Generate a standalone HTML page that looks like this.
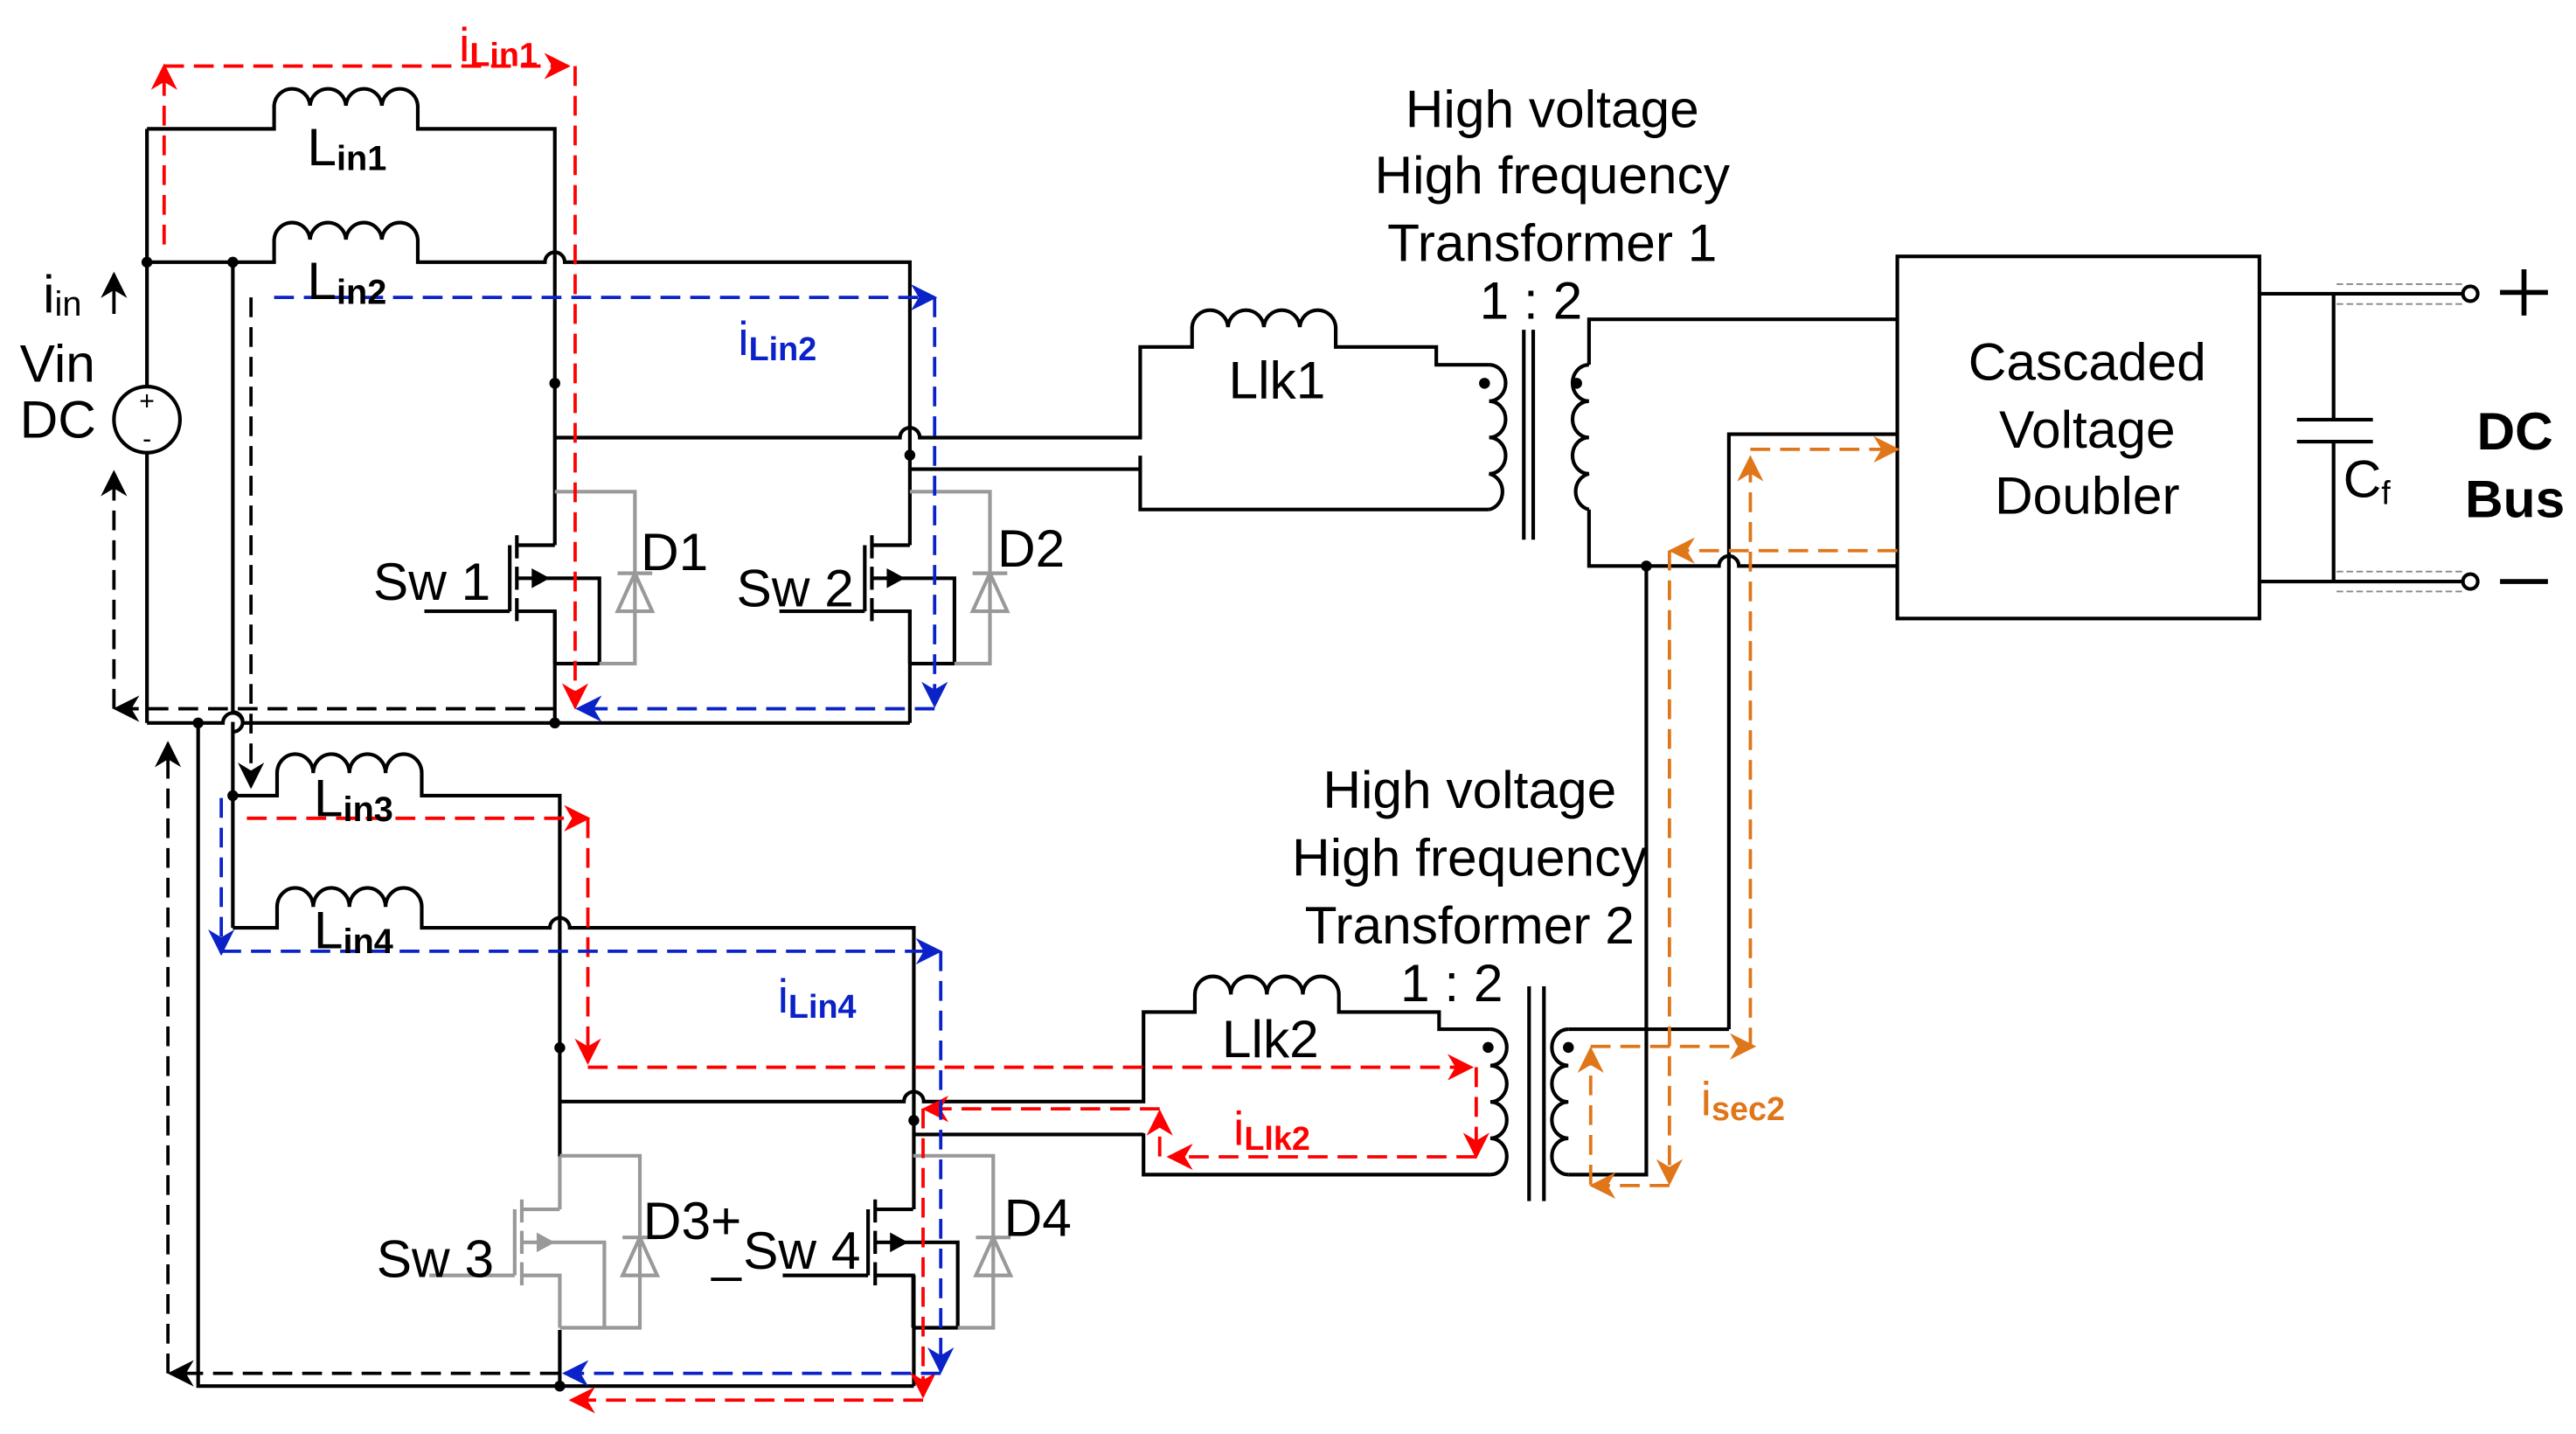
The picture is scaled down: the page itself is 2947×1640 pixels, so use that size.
<!DOCTYPE html>
<html><head><meta charset="utf-8"><style>
html,body{margin:0;padding:0;background:#fff;}
svg{display:block;}
text{font-family:"Liberation Sans",Arial,sans-serif;}
</style></head><body>
<svg width="2947" height="1640" viewBox="0 0 1560 868" preserveAspectRatio="none" xmlns="http://www.w3.org/2000/svg">
<defs>
<marker id="mr" viewBox="0 0 10 10" refX="9" refY="5" markerWidth="16" markerHeight="16" orient="auto" markerUnits="userSpaceOnUse"><path d="M0,0 L10,5 L0,10 L3,5 z" fill="#f00"/></marker>
<marker id="mb" viewBox="0 0 10 10" refX="9" refY="5" markerWidth="16" markerHeight="16" orient="auto" markerUnits="userSpaceOnUse"><path d="M0,0 L10,5 L0,10 L3,5 z" fill="#0a22c8"/></marker>
<marker id="mo" viewBox="0 0 10 10" refX="9" refY="5" markerWidth="16" markerHeight="16" orient="auto" markerUnits="userSpaceOnUse"><path d="M0,0 L10,5 L0,10 L3,5 z" fill="#e0761a"/></marker>
<marker id="mK" viewBox="0 0 10 10" refX="9" refY="5" markerWidth="16" markerHeight="16" orient="auto" markerUnits="userSpaceOnUse"><path d="M0,0 L10,5 L0,10 L3,5 z" fill="#000"/></marker>
<g id="sw">
<path d="M336,330 H313 M313,324 V338 M313,343 V357 M313,362 V376 M308.7,330 V370 M257,370 H308.7 M313,370 H336 V401.7 M313,350 H363 V401.7 H336" fill="none"/>
<path d="M322,344 L333,350 L322,356 z" stroke="none"/>
</g>
<g id="dio">
<path d="M336,297.6 H384.5 V401.7 H363 M374,347 H395" fill="none"/>
<path d="M374,370 H395 L384.5,347 z" fill="none"/>
</g>
</defs>

<g stroke="#000" stroke-width="2.2" fill="none">
<path d="M89,78 V234 M89,274 V437.6"/>
<circle cx="89" cy="254" r="20"/>
<path d="M89,78 H166 V64 a10.9,11 0 0 1 21.75,0 a10.9,11 0 0 1 21.75,0 a10.9,11 0 0 1 21.75,0 a10.9,11 0 0 1 21.75,0 V78 H336 V330 M336,370 V437.6"/>
<path d="M89,158.7 H166 V145 a10.9,11 0 0 1 21.75,0 a10.9,11 0 0 1 21.75,0 a10.9,11 0 0 1 21.75,0 a10.9,11 0 0 1 21.75,0 V158.7 H330 a6,6 0 0 1 12,0 H551 V330 M551,370 V437.6"/>
<path d="M141,158.7 V431 a6,6 0 0 1 0,12 M141,437 V561.6"/>
<path d="M336,264.9 H545 a6,6 0 0 1 12,0 H690.5 V210 H721.9 V198 a10.9,11 0 0 1 21.75,0 a10.9,11 0 0 1 21.75,0 a10.9,11 0 0 1 21.75,0 a10.9,11 0 0 1 21.75,0 V210 H869.8 V220.8 H901.8"/>
<path d="M551,284 H690.5 M690.5,275.8 V308.4 H901.8"/>
<path d="M901.8,220.8 a10,11 0 0 1 0,22 a10,11 0 0 1 0,22 a10,11 0 0 1 0,22 a10,11 0 0 1 0,21.6"/>
<path d="M922.8,199.6 V326.7 M928.5,199.6 V326.7"/>
<path d="M962.3,220.8 a10,11 0 0 0 0,22 a10,11 0 0 0 0,22 a10,11 0 0 0 0,22 a10,11 0 0 0 0,21.6"/>
<path d="M962.3,220.8 V193.3 H1149 M962.3,308.4 V342.6 H1041 a6,6 0 0 1 12,0 H1149"/>
<path d="M997,342.6 V711 H949.8 M1047,623 V262.8 H1149 M1047,623 H949.8"/>
<path d="M89,437.6 H135 a6,6 0 0 1 12,0 H551"/>
<path d="M120,437.6 V839 H553.4"/>
<path d="M141,481.6 H167.8 V468 a10.9,11.5 0 0 1 21.9,0 a10.9,11.5 0 0 1 21.9,0 a10.9,11.5 0 0 1 21.9,0 a10.9,11.5 0 0 1 21.9,0 V481.6 H339 V700"/>
<path d="M141,561.6 H167.8 V549 a10.9,11.5 0 0 1 21.9,0 a10.9,11.5 0 0 1 21.9,0 a10.9,11.5 0 0 1 21.9,0 a10.9,11.5 0 0 1 21.9,0 V561.6 H333 a6,6 0 0 1 12,0 H553.4 V732 M553.4,771.8 V839"/>
<path d="M339,666.8 H547.4 a6,6 0 0 1 12,0 H692.5 V612.6 H723.6 V602 a10.9,11 0 0 1 21.8,0 a10.9,11 0 0 1 21.8,0 a10.9,11 0 0 1 21.8,0 a10.9,11 0 0 1 21.8,0 V612.6 H871.5 V623 H902.5"/>
<path d="M553.4,686.7 H692.5 M692.5,686 V711 H902.5"/>
<path d="M902.5,623 a10,11 0 0 1 0,22 a10,11 0 0 1 0,22 a10,11 0 0 1 0,22 a10,11 0 0 1 0,22"/>
<path d="M926,597 V727 M935,597 V727"/>
<path d="M949.8,623 a10,11 0 0 0 0,22 a10,11 0 0 0 0,22 a10,11 0 0 0 0,22 a10,11 0 0 0 0,22"/>
<path d="M339,805 V839"/>
<rect x="1149" y="155.2" width="219.3" height="219.2"/>
<path d="M1368.3,177.8 H1491 M1368.3,352 H1491 M1413.2,177.8 V254 M1413.2,267.3 V352 M1391,254 H1437 M1391,267.3 H1437"/>
<circle cx="1496" cy="177.8" r="4.5"/><circle cx="1496" cy="352" r="4.5"/>
<path d="M1514,177 H1543 M1528.5,163 V191 M1514,352 H1543" stroke-width="3"/>
</g>
<path d="M1415,172 H1492 M1415,184 H1492 M1415,346 H1492 M1415,358 H1492" stroke="#888" stroke-width="1" stroke-dasharray="4,2" fill="none"/>

<g stroke="#000" fill="#000" stroke-width="2.2"><use href="#sw"/><use href="#sw" transform="translate(215,0)"/><use href="#sw" transform="translate(217,402)"/></g>
<g stroke="#999" fill="#999" stroke-width="2.2"><use href="#sw" transform="translate(3,402)"/>
<path d="M339,700 V732" fill="none"/></g>
<g stroke="#999" stroke-width="2.2" fill="none"><use href="#dio"/><use href="#dio" transform="translate(215,0)"/><use href="#dio" transform="translate(3,402)"/><use href="#dio" transform="translate(217,402)"/></g>

<g fill="#000">
<circle cx="89" cy="158.7" r="3.3"/><circle cx="141" cy="158.7" r="3.3"/><circle cx="336" cy="232" r="3.3"/><circle cx="551" cy="275.5" r="3.3"/>
<circle cx="120" cy="437.6" r="3.3"/><circle cx="336" cy="437.6" r="3.3"/><circle cx="141" cy="481.6" r="3.3"/><circle cx="339" cy="634.2" r="3.3"/>
<circle cx="553.4" cy="678.2" r="3.3"/><circle cx="339" cy="839" r="3.3"/><circle cx="997" cy="342.6" r="3.3"/>
<circle cx="899" cy="232" r="3.3"/><circle cx="954.8" cy="232" r="3.3"/><circle cx="901.2" cy="634" r="3.3"/><circle cx="949.8" cy="634" r="3.3"/>
</g>
<text x="89" y="248" font-size="16" text-anchor="middle">+</text>
<text x="89" y="271" font-size="16" text-anchor="middle">-</text>

<g fill="none" stroke-width="2" stroke-dasharray="12,6">
<path d="M69,429 V286" stroke="#000" marker-end="url(#mK)"/>
<path d="M336,429 H70" stroke="#000" marker-end="url(#mK)"/>
<path d="M101.7,831.3 V450" stroke="#000" marker-end="url(#mK)"/>
<path d="M339,831.3 H103" stroke="#000" marker-end="url(#mK)"/>
<path d="M152,180 V476" stroke="#000" marker-end="url(#mK)"/>
<path d="M99.4,148 V40" stroke="#f00" marker-end="url(#mr)"/>
<path d="M99.4,40 H344" stroke="#f00" marker-end="url(#mr)"/>
<path d="M348.3,40 V428" stroke="#f00" marker-end="url(#mr)"/>
<path d="M166,180 H566" stroke="#0a22c8" marker-end="url(#mb)"/>
<path d="M566,180 V427" stroke="#0a22c8" marker-end="url(#mb)"/>
<path d="M566,429 H350" stroke="#0a22c8" marker-end="url(#mb)"/>
<path d="M149.5,495.3 H356" stroke="#f00" marker-end="url(#mr)"/>
<path d="M356,495.3 V643" stroke="#f00" marker-end="url(#mr)"/>
<path d="M356,646 H891" stroke="#f00" marker-end="url(#mr)"/>
<path d="M894,646 V700" stroke="#f00" marker-end="url(#mr)"/>
<path d="M894,700.2 H708" stroke="#f00" marker-end="url(#mr)"/>
<path d="M702.3,700 V673" stroke="#f00" marker-end="url(#mr)"/>
<path d="M702.3,671.2 H560" stroke="#f00" marker-end="url(#mr)"/>
<path d="M559,671 V845" stroke="#f00" marker-end="url(#mr)"/>
<path d="M559,847.5 H346" stroke="#f00" marker-end="url(#mr)"/>
<path d="M134,483 V577" stroke="#0a22c8" marker-end="url(#mb)"/>
<path d="M134,575.8 H569" stroke="#0a22c8" marker-end="url(#mb)"/>
<path d="M569.7,575.8 V830" stroke="#0a22c8" marker-end="url(#mb)"/>
<path d="M569.7,831.3 H342" stroke="#0a22c8" marker-end="url(#mb)"/>
<path d="M1060,634 V277" stroke="#e0761a" marker-end="url(#mo)"/>
<path d="M1060,272 H1149" stroke="#e0761a" marker-end="url(#mo)"/>
<path d="M1149,333.3 H1012" stroke="#e0761a" marker-end="url(#mo)"/>
<path d="M1011,333.3 V716" stroke="#e0761a" marker-end="url(#mo)"/>
<path d="M1011,717.6 H964" stroke="#e0761a" marker-end="url(#mo)"/>
<path d="M963.3,717 V635" stroke="#e0761a" marker-end="url(#mo)"/>
<path d="M963.3,633.4 H1062" stroke="#e0761a" marker-end="url(#mo)"/>
</g>
<path d="M69,190 V166" stroke="#000" stroke-width="2" marker-end="url(#mK)"/>

<g font-size="32" fill="#000">
<text x="12" y="231">Vin</text><text x="12" y="265">DC</text>
<text x="26" y="189">i<tspan font-size="21" dy="2">in</tspan></text>
<text x="186" y="100">L<tspan font-size="21" font-weight="bold" dy="3">in1</tspan></text>
<text x="186" y="181">L<tspan font-size="21" font-weight="bold" dy="3">in2</tspan></text>
<text x="190" y="494">L<tspan font-size="21" font-weight="bold" dy="3">in3</tspan></text>
<text x="190" y="574">L<tspan font-size="21" font-weight="bold" dy="3">in4</tspan></text>
<text x="226" y="363">Sw 1</text><text x="388" y="345">D1</text>
<text x="446" y="367">Sw 2</text><text x="604" y="343">D2</text>
<text x="228" y="773">Sw 3</text><text x="389.5" y="750">D3+</text>
<text x="431" y="769">_</text><text x="450" y="768">Sw 4</text><text x="608" y="748">D4</text>
<text x="744" y="241">Llk1</text><text x="740" y="640">Llk2</text>
<text x="896" y="193">1 : 2</text><text x="848" y="606">1 : 2</text>
<g text-anchor="middle"><text x="940" y="77">High voltage</text><text x="940" y="117">High frequency</text><text x="940" y="158">Transformer 1</text>
<text x="890" y="489">High voltage</text><text x="890" y="530">High frequency</text><text x="890" y="571">Transformer 2</text>
<text x="1264" y="230">Cascaded</text><text x="1264" y="271">Voltage</text><text x="1264" y="311">Doubler</text>
<text x="1523" y="272" font-weight="bold">DC</text><text x="1523" y="313" font-weight="bold">Bus</text></g>
<text x="1419" y="301">C<tspan font-size="20" dy="4">f</tspan></text>
</g>
<g font-size="29">
<text x="278" y="37" fill="#f00">i<tspan font-size="20" font-weight="bold" dy="3">Lin1</tspan></text>
<text x="447" y="215" fill="#0a22c8">i<tspan font-size="20" font-weight="bold" dy="3">Lin2</tspan></text>
<text x="471" y="613" fill="#0a22c8">i<tspan font-size="20" font-weight="bold" dy="3">Lin4</tspan></text>
<text x="747" y="693" fill="#f00">i<tspan font-size="20" font-weight="bold" dy="3">Llk2</tspan></text>
<text x="1030" y="675" fill="#e0761a">i<tspan font-size="20" font-weight="bold" dy="3">sec2</tspan></text>
</g>
</svg>
</body></html>
